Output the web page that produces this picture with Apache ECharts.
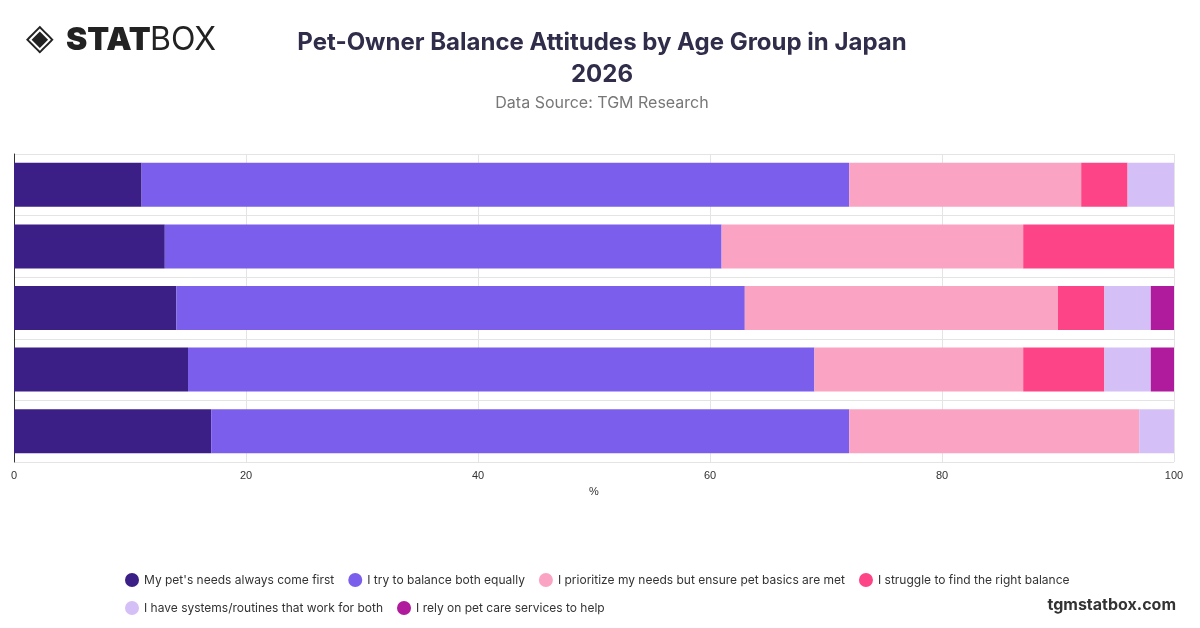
<!DOCTYPE html>
<html><head><meta charset="utf-8">
<script src="https://cdn.jsdelivr.net/npm/echarts@6/dist/echarts.min.js"></script>
<style>body{margin:0}#c{width:1200px;height:628px}</style></head>
<body><div id="c"></div>
<script>
const categories = ['18-24','25-34','35-44','45-54','55+'];
const seriesNames = ["My pet's needs always come first","I try to balance both equally","I prioritize my needs but ensure pet basics are met","I struggle to find the right balance","I have systems/routines that work for both","I rely on pet care services to help"];
const first = [11,13,14,15,17];
const balance = [61,48,49,54,55];
const prioritize = [20,26,27,18,25];
const struggle = [4,13,4,7,0];
const systems = [4,0,4,4,3];
const services = [0,0,2,2,0];
const colors = ['#3b1f87','#7b5fec','#fba3c2','#fd4486','#d4c0f7','#b01a9c'];
const values = [first,balance,prioritize,struggle,systems,services];
const chart = echarts.init(document.getElementById('c'));
chart.setOption({
  animation:false,
  graphic:[
    {type:'text',left:26,top:22,style:{text:'◈',font:'bold 36px DejaVu Sans',fill:'#222'}},
    {type:'text',left:66,top:24,style:{text:'STAT',font:'900 32px Inter',fill:'#222'}},
    {type:'text',left:150,top:24,style:{text:'BOX',font:'400 32px Inter',fill:'#222'}},
    {type:'text',right:24,top:597,style:{text:'tgmstatbox.com',font:'bold 16px Inter',fill:'#333'}}
  ],
  title:{text:'Pet-Owner Balance Attitudes by Age Group in Japan\n2026',subtext:'Data Source: TGM Research',left:597,textAlign:'center',top:22,
    textStyle:{fontFamily:'Inter',fontSize:24,fontWeight:'bold',color:'#2f2d4a',lineHeight:32},
    subtextStyle:{fontFamily:'Inter',fontSize:16,color:'#777'},itemGap:4},
  legend:{bottom:8,left:120,right:120,icon:'circle',itemWidth:14,itemHeight:14,itemGap:14,
    textStyle:{fontFamily:'Inter',fontSize:12,color:'#333'}},
  grid:{left:14,right:26,top:154,bottom:166},
  xAxis:{type:'value',min:0,max:100,interval:20,name:'%',nameLocation:'middle',nameGap:24,
    nameTextStyle:{fontSize:11,color:'#333'},axisLabel:{fontSize:11,color:'#333'},
    splitLine:{lineStyle:{color:'#e4e4e4'}}},
  yAxis:{type:'category',data:categories,inverse:true,axisLabel:{show:false},axisTick:{show:false},
    axisLine:{lineStyle:{color:'#333'}},splitLine:{show:true,lineStyle:{color:'#e4e4e4'}}},
  series:seriesNames.map((n,i)=>({name:n,type:'bar',stack:'t',data:values[i],barWidth:44,
    itemStyle:{color:colors[i]}}))
});
</script></body></html>
